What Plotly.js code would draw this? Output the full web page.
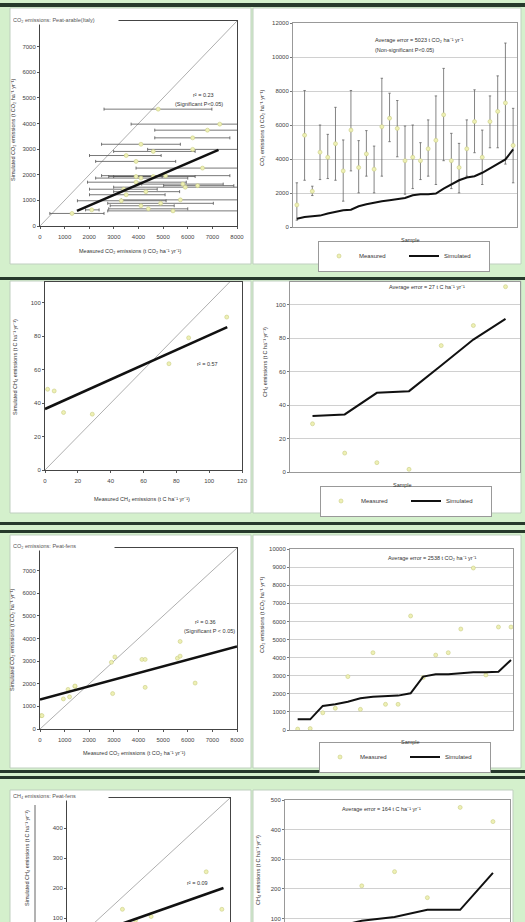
<!DOCTYPE html>
<html><head><meta charset="utf-8">
<script src="https://cdn.plot.ly/plotly-3.0.1.min.js"></script>
<style>html,body{margin:0;padding:0;overflow:hidden;background:#d4f0cc}</style>
</head><body><div id="chart" style="width:525px;height:1000px"></div>
<script>
// ---------- Row 1: CO2 emissions, peat-arable (Italy) ----------
const co2ArableSamples = [1,2,3,4,5,6,7,8,9,10,11,12,13,14,15,16,17,18,19,20,21,22,23,24,25,26,27,28,29];
const co2ArableSimulated = [490,590,630,670,790,885,985,1020,1220,1340,1435,1515,1575,1635,1710,1870,1930,1930,1965,2260,2520,2750,2910,2990,3190,3440,3740,3975,4560];
const co2ArableMeasured = [1300,5400,2100,4400,4100,4900,3300,5700,3500,4300,3400,5900,6400,5800,3900,4100,3900,4600,5100,6600,3900,3500,4600,6200,4100,6200,6800,7300,4800];
const co2ArableMin = [400,2750,1850,2790,2850,2750,1520,3300,2010,2990,2010,2990,5020,4130,1930,2260,2790,2990,2500,3900,2260,2010,2990,4370,2500,4660,4660,3700,2600];
const co2ArableMax = [2600,8030,2400,6000,5450,7040,5120,8030,5080,5670,4760,8750,7870,7440,5940,6000,4960,6300,7710,9330,5510,4920,6300,8070,5700,7710,8890,10820,6980];
const co2ArableFitX = [1500,7250];
const co2ArableFitY = [590,2970];
const co2ArableOneToOne = [0,8000];

// ---------- Row 2: CH4 emissions ----------
const ch4Samples = [1,2,3,4,5,6,7];
const ch4Simulated = [33.4,34.4,47.3,48.3,63.6,79.1,91.5];
const ch4Measured = [28.8,11.3,5.6,1.6,75.5,87.5,110.7];
const ch4FitX = [0,111];
const ch4FitY = [36.5,85.5];
const ch4OneToOne = [0,115];

// ---------- Row 3: CO2 emissions, peat-fens ----------
const co2FenSamples = [1,2,3,4,5,6,7,8,9,10,11,12,13,14,15,16,17,18];
const co2FenSimulated = [590,590,1330,1420,1565,1750,1840,1880,1900,2030,2950,3075,3075,3130,3185,3185,3220,3870];
const co2FenMeasured = [50,80,950,1200,2950,1140,4270,1420,1420,6300,2900,4140,4270,5580,8950,3040,5690,5690];
const co2FenFitX = [0,8000];
const co2FenFitY = [1300,3650];
const co2FenOneToOne = [0,8000];

// ---------- Row 4: CH4 emissions, peat-fens ----------
const ch4FenSamples = [1,2,3,4,5,6,7];
const ch4FenSimulated = [40,65,92,105,129,129,254];
const ch4FenMeasured = [30,55,210,258,170,475,427];
const ch4FenFitX = [20,480];
const ch4FenFitY = [24,200];
const ch4FenOneToOne = [0,500];

// ---------- tick labels ----------
const co2MeasTicks = [0,1000,2000,3000,4000,5000,6000,7000,8000];
const co2SimTicks = [0,1000,2000,3000,4000,5000,6000,7000];
const co2SeriesTicks = [0,2000,4000,6000,8000,10000,12000];
const ch4Ticks = [0,20,40,60,80,100,120];
const ch4SeriesTicks = [0,20,40,60,80,100];
const co2FenSeriesTicks = [0,1000,2000,3000,4000,5000,6000,7000,8000,9000,10000];
const ch4FenMeasTicks = [0,100,200,300,400,500];
const ch4FenLeftTicks = [100,200,300,400];
const ch4FenRightTicks = [100,200,300,400,500];

// ---------- helpers ----------
const W = 525, H = 1000;
const px = v => v / W, py = v => 1 - v / H;
const FONT = 'Liberation Sans, Arial, sans-serif';
const tickFont = {family: FONT, size: 6, color: '#444'};
const measMarker = {size: 4, color: '#eef0b4', line: {color: '#c9cc84', width: 0.6}};

function leftX(x0, x1, range, ticks, anchor) {
  return {domain: [px(x0), px(x1)], range: range, tickmode: 'array', tickvals: ticks, tickformat: 'd', ticks: 'outside', ticklen: 2,
    tickcolor: '#555', showline: true, linecolor: '#444', linewidth: 1, mirror: true, anchor: anchor,
    showgrid: false, zeroline: false, tickfont: tickFont, ticklabelstandoff: 3, fixedrange: true};
}
function leftY(y0, y1, range, ticks, anchor) {
  return {domain: [py(y1), py(y0)], range: range, tickmode: 'array', tickvals: ticks, tickformat: 'd', ticks: 'outside', ticklen: 2,
    tickcolor: '#555', showline: true, linecolor: '#444', linewidth: 1, mirror: true, anchor: anchor,
    showgrid: false, zeroline: false, tickfont: tickFont, fixedrange: true};
}
function rightX(x0, x1, range, anchor) {
  return {domain: [px(x0), px(x1)], range: range, showticklabels: false, ticks: '', anchor: anchor,
    showline: true, linecolor: '#999', linewidth: 1, mirror: true, showgrid: false, zeroline: false, fixedrange: true};
}
function rightY(y0, y1, range, ticks, anchor) {
  return {domain: [py(y1), py(y0)], range: range, tickmode: 'array', tickvals: ticks, tickformat: 'd', ticks: 'outside', ticklen: 2,
    tickcolor: '#777', showline: true, linecolor: '#999', linewidth: 1, mirror: true, anchor: anchor,
    showgrid: true, gridcolor: '#c4c4c4', gridwidth: 0.8, zeroline: false, tickfont: tickFont, fixedrange: true};
}
const plusErr = (hi, mid) => hi.map((v, i) => v - mid[i]);
const minusErr = (lo, mid) => lo.map((v, i) => mid[i] - v);

function oneToOne(vals, xa, ya) {
  return {x: vals, y: vals, xaxis: xa, yaxis: ya, mode: 'lines', line: {color: '#9a9a9a', width: 0.8}, showlegend: false, hoverinfo: 'skip'};
}
function fitLine(xs, ys, xa, ya) {
  return {x: xs, y: ys, xaxis: xa, yaxis: ya, mode: 'lines', line: {color: '#111', width: 2.6}, showlegend: false, hoverinfo: 'skip'};
}

const traces = [
  // Row 1 left
  oneToOne(co2ArableOneToOne, 'x', 'y'),
  {x: co2ArableMeasured, y: co2ArableSimulated, xaxis: 'x', yaxis: 'y', mode: 'markers', marker: measMarker,
   error_x: {type: 'data', symmetric: false, array: plusErr(co2ArableMax, co2ArableMeasured), arrayminus: minusErr(co2ArableMin, co2ArableMeasured),
             color: '#555', thickness: 0.8, width: 1.5}, showlegend: false},
  fitLine(co2ArableFitX, co2ArableFitY, 'x', 'y'),
  // Row 1 right
  {x: co2ArableSamples, y: co2ArableMeasured, xaxis: 'x2', yaxis: 'y2', mode: 'markers', name: 'Measured', marker: measMarker,
   error_y: {type: 'data', symmetric: false, array: plusErr(co2ArableMax, co2ArableMeasured), arrayminus: minusErr(co2ArableMin, co2ArableMeasured),
             color: '#666', thickness: 0.8, width: 1.2}, legend: 'legend'},
  {x: co2ArableSamples, y: co2ArableSimulated, xaxis: 'x2', yaxis: 'y2', mode: 'lines', name: 'Simulated', line: {color: '#111', width: 2}, legend: 'legend'},
  // Row 2 left
  oneToOne(ch4OneToOne, 'x3', 'y3'),
  {x: ch4Measured, y: ch4Simulated, xaxis: 'x3', yaxis: 'y3', mode: 'markers', marker: measMarker, showlegend: false},
  fitLine(ch4FitX, ch4FitY, 'x3', 'y3'),
  // Row 2 right
  {x: ch4Samples, y: ch4Measured, xaxis: 'x4', yaxis: 'y4', mode: 'markers', name: 'Measured', marker: measMarker, legend: 'legend2'},
  {x: ch4Samples, y: ch4Simulated, xaxis: 'x4', yaxis: 'y4', mode: 'lines', name: 'Simulated', line: {color: '#111', width: 2}, legend: 'legend2'},
  // Row 3 left
  oneToOne(co2FenOneToOne, 'x5', 'y5'),
  {x: co2FenMeasured, y: co2FenSimulated, xaxis: 'x5', yaxis: 'y5', mode: 'markers', marker: measMarker, showlegend: false},
  fitLine(co2FenFitX, co2FenFitY, 'x5', 'y5'),
  // Row 3 right
  {x: co2FenSamples, y: co2FenMeasured, xaxis: 'x6', yaxis: 'y6', mode: 'markers', name: 'Measured', marker: measMarker, legend: 'legend3'},
  {x: co2FenSamples, y: co2FenSimulated, xaxis: 'x6', yaxis: 'y6', mode: 'lines', name: 'Simulated', line: {color: '#111', width: 2}, legend: 'legend3'},
  // Row 4 left
  oneToOne(ch4FenOneToOne, 'x7', 'y7'),
  {x: ch4FenMeasured, y: ch4FenSimulated, xaxis: 'x7', yaxis: 'y7', mode: 'markers', marker: measMarker, showlegend: false},
  fitLine(ch4FenFitX, ch4FenFitY, 'x7', 'y7'),
  // Row 4 right
  {x: ch4FenSamples, y: ch4FenMeasured, xaxis: 'x8', yaxis: 'y8', mode: 'markers', marker: measMarker, showlegend: false},
  {x: ch4FenSamples, y: ch4FenSimulated, xaxis: 'x8', yaxis: 'y8', mode: 'lines', line: {color: '#111', width: 2}, showlegend: false}
];

function ann(text, x, y, o) {
  return Object.assign({text: text, x: px(x), y: py(y), xref: 'paper', yref: 'paper', showarrow: false,
    xanchor: 'center', yanchor: 'middle', font: {family: FONT, size: 5.5, color: '#333'}}, o || {});
}
function titleMask(text, x, y, w) {
  return ann(text, x, y, {xanchor: 'left', width: w, align: 'left', bgcolor: '#ffffff', borderpad: 1,
    font: {family: FONT, size: 5.5, color: '#555'}});
}
const vt = {textangle: -90};

const annotations = [
  // row 1
  titleMask('CO₂ emissions: Peat-arable(Italy)', 11, 20, 104),
  ann('r² = 0.23', 203, 95), ann('(Significant P<0.05)', 199, 104),
  ann('Measured CO₂ emissions (t CO₂ ha⁻¹ yr⁻¹)', 130, 251),
  ann('Simulated CO₂ emissions (t CO₂ ha⁻¹ yr⁻¹)', 13, 130, vt),
  ann('Average error = 5023 t CO₂ ha⁻¹ yr⁻¹', 373, 40, {xanchor: 'left'}),
  ann('(Non-significant P<0.05)', 373, 50, {xanchor: 'left'}),
  ann('CO₂ emissions (t CO₂ ha⁻¹ yr⁻¹)', 262, 128, vt),
  ann('Sample', 410, 240),
  // row 2
  ann('r² = 0.57', 207, 364),
  ann('Measured CH₄ emissions (t C ha⁻¹ yr⁻¹)', 142, 499),
  ann('Simulated CH₄ emissions (t C ha⁻¹ yr⁻¹)', 15, 367, vt),
  ann('Average error = 27 t C ha⁻¹ yr⁻¹', 427, 287),
  ann('CH₄ emissions (t C ha⁻¹ yr⁻¹)', 265, 362, vt),
  ann('Sample', 402, 485),
  // row 3
  titleMask('CO₂ emissions: Peat-fens', 11, 546, 100),
  ann('r² = 0.36', 205, 622), ann('(Significant P < 0.05)', 209, 631),
  ann('Measured CO₂ emissions (t CO₂ ha⁻¹ yr⁻¹)', 134, 753),
  ann('Simulated CO₂ emissions (t CO₂ ha⁻¹ yr⁻¹)', 12, 640, vt),
  ann('Average error = 2538 t CO₂ ha⁻¹ yr⁻¹', 432, 558),
  ann('CO₂ emissions (t CO₂ ha⁻¹ yr⁻¹)', 262, 615, vt),
  ann('Sample', 410, 742),
  // row 4
  titleMask('CH₄ emissions: Peat-fens', 11, 796, 94),
  ann('r² = 0.09', 197, 883),
  ann('Simulated CH₄ emissions (t C ha⁻¹ yr⁻¹)', 27, 858, vt),
  ann('Average error = 164 t C ha⁻¹ yr⁻¹', 381, 809),
  ann('CH₄ emissions (t C ha⁻¹ yr⁻¹)', 258, 870, vt)
];

function rect(x0, y0, x1, y1, fill, lc) {
  return {type: 'rect', xref: 'paper', yref: 'paper', x0: px(x0), x1: px(x1), y0: py(y1), y1: py(y0),
    fillcolor: fill, line: {color: lc || fill, width: lc ? 1 : 0}, layer: 'below'};
}
const DARK = '#26392b', PANEL_LINE = '#bfcfbf';
const shapes = [
  rect(0, 3, 525, 7, DARK),
  rect(10, 8, 251, 264, '#ffffff', PANEL_LINE), rect(253, 8, 521, 264, '#ffffff', PANEL_LINE),
  rect(0, 277, 525, 280, DARK),
  rect(10, 281, 251, 513, '#ffffff', PANEL_LINE), rect(253, 281, 521, 513, '#ffffff', PANEL_LINE),
  rect(0, 522, 525, 525, DARK), rect(0, 530, 525, 533, DARK),
  rect(10, 535, 251, 768, '#ffffff', PANEL_LINE), rect(253, 535, 521, 768, '#ffffff', PANEL_LINE),
  rect(0, 770, 525, 773, DARK), rect(0, 776, 525, 779, DARK),
  rect(10, 790, 251, 1000, '#ffffff', PANEL_LINE), rect(253, 790, 513, 1000, '#ffffff', PANEL_LINE),
  {type: 'line', xref: 'paper', yref: 'paper', x0: px(35), x1: px(35), y0: py(1000), y1: py(805), line: {color: '#666', width: 1}}
];

function legendAt(x, y) {
  return {x: px(x), y: py(y), xanchor: 'center', yanchor: 'middle', orientation: 'h', bgcolor: '#ffffff',
    bordercolor: '#999', borderwidth: 1, font: {family: FONT, size: 6, color: '#333'}, itemwidth: 30,
    entrywidth: 40, tracegroupgap: 0};
}

const x7 = leftX(67, 230, [0, 500], ch4FenMeasTicks, 'y7');
x7.showticklabels = false;

const layout = {
  width: W, height: H, margin: {l: 0, r: 0, t: 0, b: 0},
  paper_bgcolor: '#d4f0cc', plot_bgcolor: '#ffffff',
  font: {family: FONT, size: 6, color: '#333'},
  xaxis: leftX(40, 237, [0, 8000], co2MeasTicks, 'y'), yaxis: leftY(21, 226, [0, 8000], co2SimTicks, 'x'),
  xaxis2: rightX(293, 517, [0.5, 29.5], 'y2'), yaxis2: rightY(23, 227, [0, 12000], co2SeriesTicks, 'x2'),
  xaxis3: leftX(45, 242, [0, 120], ch4Ticks, 'y3'), yaxis3: leftY(282, 470, [0, 112.5], ch4SeriesTicks, 'x3'),
  xaxis4: rightX(290, 520, [0.3, 7.45], 'y4'), yaxis4: rightY(282, 472, [0, 113.5], ch4SeriesTicks, 'x4'),
  xaxis5: leftX(40, 237, [0, 8000], co2MeasTicks, 'y5'), yaxis5: leftY(548, 729, [0, 8000], co2SimTicks, 'x5'),
  xaxis6: rightX(290, 513, [0.39, 18.16], 'y6'), yaxis6: rightY(549, 730, [0, 10000], co2FenSeriesTicks, 'x6'),
  xaxis7: x7, yaxis7: leftY(798, 948, [0, 500], ch4FenLeftTicks, 'x7'),
  xaxis8: rightX(285, 510, [0.66, 7.52], 'y8'), yaxis8: rightY(800, 948, [0, 500], ch4FenRightTicks, 'x8'),
  legend: legendAt(404, 256), legend2: legendAt(406, 501), legend3: legendAt(405, 757),
  annotations: annotations, shapes: shapes, hovermode: false
};

Plotly.newPlot('chart', traces, layout, {staticPlot: true, displayModeBar: false});
</script>
</body></html>
